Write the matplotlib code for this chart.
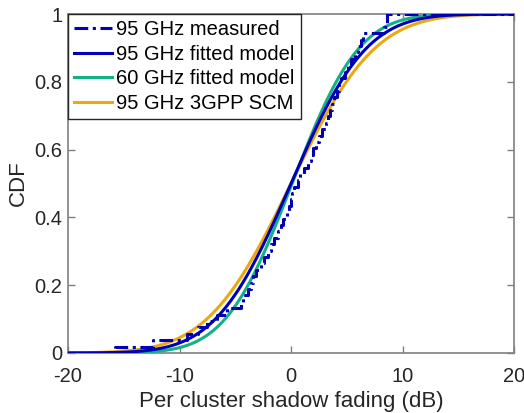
import numpy as np
import matplotlib
matplotlib.use("Agg")
import matplotlib.pyplot as plt
from math import erf

plt.rcParams['font.family'] = ['Liberation Sans', 'DejaVu Sans']
plt.rcParams['axes.unicode_minus'] = False

# measured per-cluster shadow fading samples at 95 GHz (dB), read from the empirical CDF
measured_95 = [-15.8, -12.4, -9.3, -8.3, -7.5, -6.6, -5.7, -4.5, -4.3, -3.9,
               -3.6, -3.4, -3.1, -2.7, -2.4, -2.1, -1.8, -1.5, -1.2, -0.9,
               -0.7, -0.4, -0.2, 0.0, 0.05, 0.3, 0.6, 0.8, 1.2, 1.5,
               1.8, 2.0, 2.2, 2.5, 2.8, 3.1, 3.3, 3.5, 3.7, 3.9,
               4.1, 4.3, 4.5, 4.8, 5.1, 5.4, 5.7, 6.0, 6.3, 6.5,
               8.3, 8.6, 8.6]

# fitted normal models (mean, std) in dB
fit_95 = (0.0, 5.3)
fit_60 = (0.1, 4.7)
scm_95 = (0.0, 5.9)

labels = ["95 GHz measured", "95 GHz fitted model", "60 GHz fitted model", "95 GHz 3GPP SCM"]
colors = ["#0000B4", "#0000B4", "#12B287", "#E9A90F"]

x_ticks = [-20, -10, 0, 10, 20]
y_ticks = [0, 0.2, 0.4, 0.6, 0.8, 1]


def norm_cdf(x, mu, sd):
    return np.array([0.5 * (1 + erf((v - mu) / (sd * np.sqrt(2)))) for v in x])


fig = plt.figure(figsize=(5.24, 4.13), dpi=100)
ax = fig.add_axes([68 / 524, 60 / 413, 446 / 524, 339 / 413])

# empirical CDF
s = np.sort(np.array(measured_95))
n = len(s)
xs = np.concatenate(([-20], s, [20]))
ys = np.concatenate(([0], np.arange(1, n + 1) / n, [1]))
ax.step(xs, ys, where='post', color=colors[0], lw=2.2, ls=(0, (4.5, 1.5, 1, 1.5)),
        label=labels[0], zorder=5)

xx = np.linspace(-20, 20, 400)
ax.plot(xx, norm_cdf(xx, *fit_95), color=colors[1], lw=2.2, label=labels[1], zorder=4)
ax.plot(xx, norm_cdf(xx, *fit_60), color=colors[2], lw=2.2, label=labels[2], zorder=3)
ax.plot(xx, norm_cdf(xx, *scm_95), color=colors[3], lw=2.2, label=labels[3], zorder=2)

ax.set_xlim(-20, 20)
ax.set_ylim(0, 1)
ax.set_xticks(x_ticks)
ax.set_yticks(y_ticks)
ax.set_yticklabels(["0", "0.2", "0.4", "0.6", "0.8", "1"])
ax.tick_params(direction='in', length=5, width=1, colors='#7f7f7f',
               labelcolor='#262626', labelsize=14.5, top=True, right=True, pad=4)
ax.tick_params(axis='x', pad=10)
for sp in ax.spines.values():
    sp.set_color('#7f7f7f')
    sp.set_linewidth(1.2)

ax.set_xlabel("Per cluster shadow fading (dB)", fontsize=16, color='#262626', labelpad=4)
ax.set_ylabel("CDF", fontsize=16, color='#262626', labelpad=4)

leg = ax.legend(loc='upper left', fontsize=14.5, frameon=True, fancybox=False,
                borderaxespad=0, handlelength=1.9, handletextpad=0.2,
                labelspacing=0.28, borderpad=0.3)
leg.get_frame().set_edgecolor('#262626')
leg.get_frame().set_linewidth(1.0)
leg.get_frame().set_alpha(1)

fig.savefig("out.png", dpi=100)
